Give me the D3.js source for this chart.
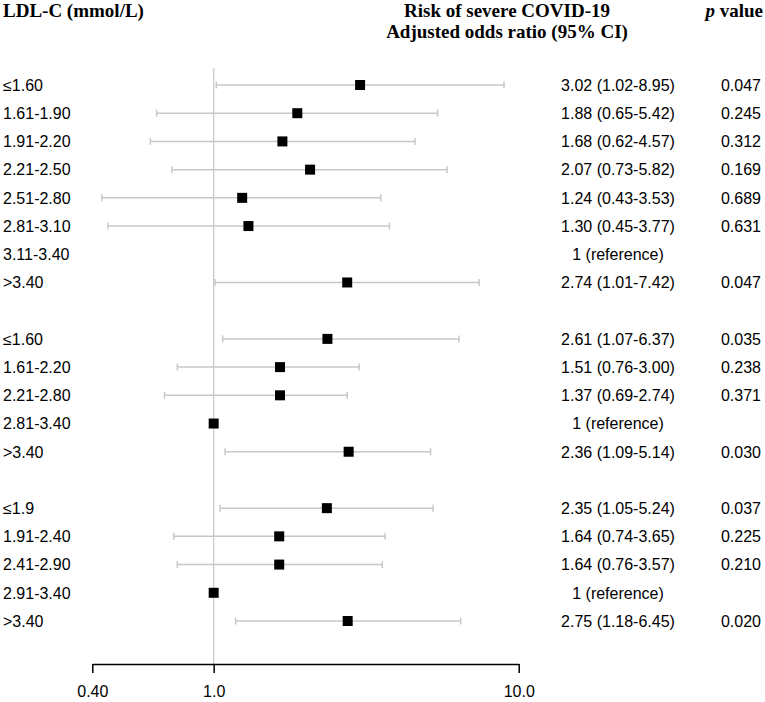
<!DOCTYPE html>
<meta charset="utf-8">
<style>

body {
  margin: 0;
  background: #fff;
}

text {
  font-family: "Liberation Sans", Arial, sans-serif;
  font-size: 16px;
  fill: #000;
}

.head {
  font-family: "Liberation Serif", "Times New Roman", serif;
  font-size: 19px;
  font-weight: bold;
}

.ci {
  stroke: #c8c8c8;
  stroke-width: 1.5px;
  fill: none;
}

</style>
<body>
<script src="https://cdn.jsdelivr.net/npm/d3@7"></script>
<script>

// one entry per row, null marks the blank rows between the three groups
var categories = [
  "≤1.60", "1.61-1.90", "1.91-2.20", "2.21-2.50", "2.51-2.80", "2.81-3.10", "3.11-3.40", ">3.40",
  null,
  "≤1.60", "1.61-2.20", "2.21-2.80", "2.81-3.40", ">3.40",
  null,
  "≤1.9", "1.91-2.40", "2.41-2.90", "2.91-3.40", ">3.40"
];

// odds ratios as printed in the table column
var oddsRatio = [
  3.02, 1.88, 1.68, 2.07, 1.24, 1.30, null, 2.74,
  null,
  2.61, 1.51, 1.37, null, 2.36,
  null,
  2.35, 1.64, 1.64, null, 2.75
];

// where the squares sit in the picture (middle group is drawn off its printed values)
var plottedOR = [
  3.02, 1.88, 1.68, 2.07, 1.24, 1.30, null, 2.74,
  null,
  2.36, 1.65, 1.65, 1, 2.77,
  null,
  2.35, 1.64, 1.64, 1, 2.75
];

var ciLow = [
  1.02, 0.65, 0.62, 0.73, 0.43, 0.45, null, 1.01,
  null,
  1.07, 0.76, 0.69, null, 1.09,
  null,
  1.05, 0.74, 0.76, null, 1.18
];

var ciHigh = [
  8.95, 5.42, 4.57, 5.82, 3.53, 3.77, null, 7.42,
  null,
  6.37, 3.00, 2.74, null, 5.14,
  null,
  5.24, 3.65, 3.57, null, 6.45
];

var isReference = [
  false, false, false, false, false, false, true, false,
  false,
  false, false, false, true, false,
  false,
  false, false, false, true, false
];

var pValues = [
  "0.047", "0.245", "0.312", "0.169", "0.689", "0.631", "", "0.047",
  "",
  "0.035", "0.238", "0.371", "", "0.030",
  "",
  "0.037", "0.225", "0.210", "", "0.020"
];

var tickValues = [0.4, 1, 10],
    tickLabels = ["0.40", "1.0", "10.0"];

var w = 765,
    h = 702;

var rows = categories.map(function(c, i) {
  return {
    label: c,
    or: oddsRatio[i],
    mark: plottedOR[i],
    lo: ciLow[i],
    hi: ciHigh[i],
    ref: isReference[i],
    p: pValues[i],
    i: i
  };
});

var x = d3.scaleLog()
    .domain([0.4, 10])
    .range([92.3, 518.7]);

var y = d3.scaleLinear()
    .domain([0, rows.length - 1])
    .range([85, 621]);

var svg = d3.select("body").append("svg")
    .attr("width", w)
    .attr("height", h);

// headers
svg.append("text")
    .attr("class", "head")
    .attr("x", 3)
    .attr("y", 17)
    .text("LDL-C (mmol/L)");

svg.append("text")
    .attr("class", "head")
    .attr("x", 507)
    .attr("y", 17)
    .attr("text-anchor", "middle")
    .text("Risk of severe COVID-19");

svg.append("text")
    .attr("class", "head")
    .attr("x", 507)
    .attr("y", 38)
    .attr("text-anchor", "middle")
    .text("Adjusted odds ratio (95% CI)");

var pHead = svg.append("text")
    .attr("class", "head")
    .attr("x", 763)
    .attr("y", 17)
    .attr("text-anchor", "end");
pHead.append("tspan").style("font-style", "italic").text("p");
pHead.append("tspan").text(" value");

// reference line at OR = 1
svg.append("line")
    .attr("x1", x(1))
    .attr("x2", x(1))
    .attr("y1", 68)
    .attr("y2", 664)
    .attr("stroke", "#d0d0d0")
    .attr("stroke-width", 1.5);

// bottom axis
var axis = svg.append("g")
    .attr("transform", "translate(0,664)")
    .call(d3.axisBottom(x)
        .tickValues(tickValues)
        .tickFormat(function(d, i) { return tickLabels[i]; })
        .tickSize(9)
        .tickSizeOuter(0)
        .tickPadding(13));

axis.select(".domain")
    .attr("stroke", "#000")
    .attr("stroke-width", 1.5);

axis.selectAll(".tick line")
    .attr("stroke", "#000")
    .attr("stroke-width", 1.5);

axis.selectAll(".tick text")
    .style("font-family", "\"Liberation Sans\", Arial, sans-serif")
    .style("font-size", "16px");

var row = svg.selectAll(".row")
    .data(rows.filter(function(d) { return d.label !== null; }))
  .enter().append("g")
    .attr("class", "row")
    .attr("transform", function(d) { return "translate(0," + y(d.i) + ")"; });

row.append("text")
    .attr("x", 3)
    .attr("dy", "0.36em")
    .text(function(d) { return d.label; });

var ciRow = row.filter(function(d) { return d.lo != null; });

ciRow.append("line")
    .attr("class", "ci")
    .attr("x1", function(d) { return x(d.lo); })
    .attr("x2", function(d) { return x(d.hi); });

ciRow.selectAll(".cap")
    .data(function(d) { return [d.lo, d.hi]; })
  .enter().append("line")
    .attr("class", "ci cap")
    .attr("x1", function(v) { return x(v); })
    .attr("x2", function(v) { return x(v); })
    .attr("y1", -3.5)
    .attr("y2", 3.5);

row.filter(function(d) { return d.mark != null; })
  .append("rect")
    .attr("x", function(d) { return x(d.mark) - 5; })
    .attr("y", -5)
    .attr("width", 10)
    .attr("height", 10)
    .attr("fill", "#000");

row.append("text")
    .attr("x", 618)
    .attr("text-anchor", "middle")
    .attr("dy", "0.36em")
    .text(function(d) {
      if (d.ref) return "1 (reference)";
      return d.or.toFixed(2) + " (" + d.lo.toFixed(2) + "-" + d.hi.toFixed(2) + ")";
    });

row.append("text")
    .attr("x", 761)
    .attr("text-anchor", "end")
    .attr("dy", "0.36em")
    .text(function(d) { return d.p; });

</script>
</body>
